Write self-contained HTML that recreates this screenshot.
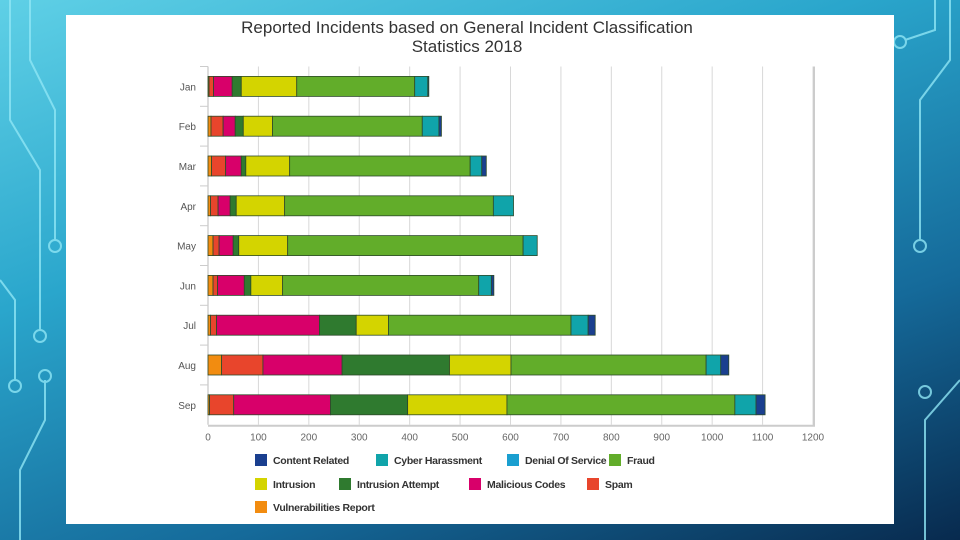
<!DOCTYPE html>
<html><head><meta charset="utf-8"><style>
body{margin:0;width:960px;height:540px;overflow:hidden;font-family:"Liberation Sans",sans-serif;}
#bg{position:absolute;left:0;top:0;width:960px;height:540px;background:linear-gradient(160deg,#5fd0e6 0%,#2aa6cc 35%,#156a9a 70%,#082a4e 100%);}
#panel{position:absolute;left:66px;top:15px;width:828px;height:509px;background:#fff;}
</style></head><body>
<div id="bg">
<svg width="960" height="540" style="position:absolute;left:0;top:0">
<g stroke="#8fe6f5" stroke-width="2" fill="none" opacity="0.8">
<path d="M10 0 L10 120 L40 170 L40 330"/><circle cx="40" cy="336" r="6"/>
<path d="M30 0 L30 60 L55 110 L55 240"/><circle cx="55" cy="246" r="6"/>
<path d="M0 280 L15 300 L15 380"/><circle cx="15" cy="386" r="6"/>
<path d="M950 0 L950 60 L920 100 L920 240"/><circle cx="920" cy="246" r="6"/>
<path d="M935 0 L935 30 L905 40"/><circle cx="900" cy="42" r="6"/>
<path d="M960 380 L925 420 L925 540"/><circle cx="925" cy="392" r="6"/>
<path d="M20 540 L20 470 L45 420 L45 380"/><circle cx="45" cy="376" r="6"/>
</g></svg>
</div>
<div id="panel"></div>
<svg id="chart" width="960" height="540" style="position:absolute;left:0;top:0" font-family="Liberation Sans, sans-serif">
<text x="467" y="33" text-anchor="middle" font-size="17" fill="#333">Reported Incidents based on General Incident Classification</text>
<text x="467" y="52" text-anchor="middle" font-size="17" fill="#333">Statistics 2018</text>
<g id="grid"></g><g id="bars"></g><g id="axes"></g><g id="legend"></g>
</svg>
<script>
const categories=["Jan","Feb","Mar","Apr","May","Jun","Jul","Aug","Sep"];
const vulnerabilities=[2,6,7,5,10,10,5,27,3];
const spam=[9,24,28,15,12,9,12,82,48];
const malicious=[37,24,31,24,28,53,204,157,192];
const intrusionAttempt=[18,16,9,12,11,13,73,213,153];
const intrusion=[110,58,87,96,97,63,64,122,197];
const fraud=[234,297,358,414,467,389,362,387,452];
const cyber=[26,33,23,40,28,25,34,29,42];
const dos=[0,0,0,0,0,0,0,0,0];
const content=[2,5,9,0,0,5,14,16,18];
const xTicks=[0,100,200,300,400,500,600,700,800,900,1000,1100,1200];
const series=[
 {name:"Vulnerabilities Report",key:"vulnerabilities",vals:vulnerabilities,color:"#f28c10"},
 {name:"Spam",key:"spam",vals:spam,color:"#e8452c"},
 {name:"Malicious Codes",key:"malicious-codes",vals:malicious,color:"#d8006a"},
 {name:"Intrusion Attempt",key:"intrusion-attempt",vals:intrusionAttempt,color:"#2f7a2f"},
 {name:"Intrusion",key:"intrusion",vals:intrusion,color:"#d4d400"},
 {name:"Fraud",key:"fraud",vals:fraud,color:"#62ad2a"},
 {name:"Cyber Harassment",key:"cyber-harassment",vals:cyber,color:"#10a4aa"},
 {name:"Denial Of Service",key:"denial-of-service",vals:dos,color:"#1a9fd0"},
 {name:"Content Related",key:"content-related",vals:content,color:"#1a3f8f"}];
const NS="http://www.w3.org/2000/svg";
const x0=208,xMax=1200,plotW=605,y0=66.5,band=39.8,barH=20;
const xs=v=>x0+v/xMax*plotW;
const yc=i=>y0+band*(i+0.5);
function mk(t,a,p){const e=document.createElementNS(NS,t);for(const k in a)e.setAttribute(k,a[k]);p.appendChild(e);return e;}
const grid=document.getElementById('grid'),bars=document.getElementById('bars'),axes=document.getElementById('axes'),legend=document.getElementById('legend');
const yBot=y0+band*categories.length;
xTicks.forEach(t=>{
 const l=mk('line',{x1:xs(t),x2:xs(t),y1:y0,y2:yBot,stroke:t===0?'#bbb':'#d8d8d8','stroke-width':1},grid);
 
 
 const tx=mk('text',{x:xs(t),y:yBot+16,'text-anchor':'middle','font-size':10,fill:'#666'},axes);
 tx.textContent=t;
 
 
});
const fr=mk('path',{d:`M${x0} ${yBot+1} L${x0+plotW+1} ${yBot+1} L${x0+plotW+1} ${y0}`,stroke:'#ccc','stroke-width':2,fill:'none'},axes);


categories.forEach((c,i)=>{
 const tk=mk('line',{x1:x0-8,x2:x0,y1:y0+band*i,y2:y0+band*i,stroke:'#ccc'},axes);
 
 
 const tx=mk('text',{x:x0-12,y:yc(i)+4,'text-anchor':'end','font-size':10,fill:'#555'},axes);
 tx.textContent=c;
 
 
 let acc=0;
 series.forEach(s=>{
  const v=s.vals[i];
  if(v>0){
   const r=mk('rect',{x:xs(acc),y:yc(i)-barH/2,width:xs(acc+v)-xs(acc),height:barH,fill:s.color,stroke:'#2d4a2a','stroke-width':0.8},bars);
   
   
  }
  acc+=v;
 });
});
const legendOrder=["Content Related","Cyber Harassment","Denial Of Service","Fraud","Intrusion","Intrusion Attempt","Malicious Codes","Spam","Vulnerabilities Report"];
const legPos=[[255,460],[376,460],[507,460],[609,460],[255,484],[339,484],[469,484],[587,484],[255,507]];
legendOrder.forEach((n,k)=>{
 const s=series.find(q=>q.name===n);
 const g=mk('g',{},legend);
 
 
 mk('rect',{x:legPos[k][0],y:legPos[k][1]-6,width:12,height:12,fill:s.color},g);
 const t=mk('text',{x:legPos[k][0]+18,y:legPos[k][1]+4,'font-size':10.5,'font-weight':'bold',fill:'#333','letter-spacing':'-0.3'},g);
 t.textContent=n;
});
</script>
</body></html>
